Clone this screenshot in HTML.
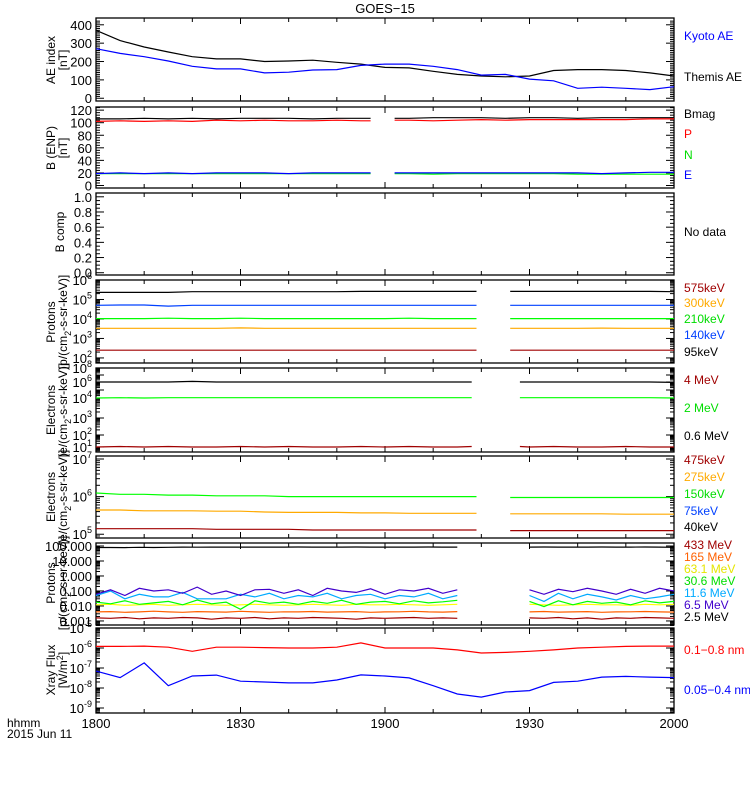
<!DOCTYPE html>
<html><head><meta charset="utf-8"><style>
body{margin:0;background:#fff;}
svg{display:block;font-family:"Liberation Sans",sans-serif;}
</style></head><body>
<svg id="chart" width="750" height="800" xmlns="http://www.w3.org/2000/svg"></svg>
<script>
// ---- data ----
const aeTimes=[0,5,10,15,20,25,30,35,40,45,50,55,60,65,70,75,80,85,90,95,100,105,110,115,120];
const themisAE=[370,314,279,252,226,214,214,200,203,207,196,186,168,165,147,130,121,117,121,151,156,156,151,138,121];
const kyotoAE=[270,244,226,203,174,160,160,138,142,154,156,179,186,186,174,156,126,130,104,95,54,60,54,47,63];
const bTimes=[0,5,10,15,20,25,30,35,40,45,50,55,57,59,62,65,70,75,80,85,90,95,100,105,110,115,120];
const bMag=[106,106,107,106,107,106,107,107,107,106,107,107,107,null,107,107,108,108,108,107,108,108,107,108,108,108,108];
const bP=[102,103,102,103,102,104,103,104,103,103,104,103,103,null,104,104,103,104,105,104,105,105,105,105,105,106,106];
const bN=[19,19,19,19,19,19,19,19,19,19,19,19,19,null,19,19,18,19,19,19,19,19,18,18,18,18,18];
const bE=[19,20,19,20,19,20,20,20,19,20,20,20,20,null,20,20,20,20,20,20,20,20,20,19,20,21,21];
const p4Times=[0,5,10,15,20,25,30,35,40,45,50,55,60,65,70,75,79,82,86,90,95,100,105,110,115,120];
const p95=[2.3e5,2.3e5,2.3e5,2.3e5,2.5e5,2.5e5,2.5e5,2.5e5,2.5e5,2.5e5,2.5e5,2.6e5,2.6e5,2.6e5,2.6e5,2.6e5,2.6e5,null,2.6e5,2.6e5,2.6e5,2.6e5,2.6e5,2.6e5,2.6e5,2.5e5];
const p140=[5e4,5.2e4,5.2e4,4.6e4,5e4,5e4,5e4,5e4,5e4,5e4,5e4,5e4,5e4,5e4,5e4,5e4,5e4,null,5e4,5e4,5e4,5e4,5e4,5e4,5e4,5e4];
const p210=[1.05e4,1.05e4,1.05e4,1.1e4,1.05e4,1.05e4,1.1e4,1.05e4,1.05e4,1.05e4,1.05e4,1.05e4,1.05e4,1.1e4,1.05e4,1.05e4,1.05e4,null,1.05e4,1.05e4,1.05e4,1.05e4,1.05e4,1.05e4,1.05e4,1.05e4];
const p300=[3.3e3,3.3e3,3.3e3,3.3e3,3.3e3,3.3e3,3.5e3,3.3e3,3.3e3,3.3e3,3.3e3,3.3e3,3.3e3,3.3e3,3.3e3,3.3e3,3.3e3,null,3.3e3,3.3e3,3.3e3,3.3e3,3.4e3,3.3e3,3.3e3,3.3e3];
const p575=[250,250,250,250,250,250,250,250,250,250,250,250,250,250,250,250,250,null,250,250,250,250,250,250,250,250];
const e5Times=[0,5,10,15,20,25,30,35,40,45,50,55,60,65,70,75,78,82,88,90,95,100,105,110,115,120];
const e06=[1e6,1e6,1e6,1e6,1.2e6,1e6,1e6,1e6,1e6,1e6,1e6,1e6,1e6,1e6,1e6,1e6,1e6,null,1e6,1e6,1e6,1e6,1e6,1e6,1e6,9e5];
const e2=[1e4,1.1e4,1e4,1.1e4,1.1e4,1.1e4,1.1e4,1.1e4,1.1e4,1.1e4,1.1e4,1.1e4,1.1e4,1.1e4,1.1e4,1.1e4,1.1e4,null,1.1e4,1.1e4,1.1e4,1.1e4,1.1e4,1.1e4,1.1e4,1e4];
const e4=[10,11,10,11,10,10,11,10,11,10,10,11,10,11,10,10,11,null,11,10,11,10,10,11,10,10];
const e6Times=[0,5,10,15,20,25,30,35,40,45,50,55,60,65,70,75,79,82,86,90,95,100,105,110,115,120];
const e150=[1.25e6,1.15e6,1.15e6,1.1e6,1.1e6,1.05e6,1.05e6,1.05e6,1e6,1e6,1e6,1e6,1e6,1e6,1e6,1e6,1e6,null,9.5e5,9.5e5,9.5e5,9.5e5,9.5e5,9.5e5,9.5e5,9.5e5];
const e275=[4.4e5,4.4e5,4.2e5,4.2e5,4.2e5,4.1e5,4.1e5,3.9e5,3.8e5,3.8e5,3.8e5,3.7e5,3.7e5,3.6e5,3.6e5,3.6e5,3.6e5,null,3.5e5,3.5e5,3.5e5,3.5e5,3.5e5,3.4e5,3.4e5,3.4e5];
const e475=[1.4e5,1.4e5,1.4e5,1.4e5,1.4e5,1.35e5,1.35e5,1.35e5,1.35e5,1.3e5,1.3e5,1.3e5,1.3e5,1.3e5,1.3e5,1.3e5,1.3e5,null,1.25e5,1.25e5,1.25e5,1.25e5,1.25e5,1.25e5,1.25e5,1.25e5];
const p7Times=[0,3,6,9,12,15,18,21,24,27,30,33,36,39,42,45,48,51,54,57,60,63,66,69,72,75,78,81,84,87,90,93,96,99,102,105,108,111,114,117,120];
const p2_5=[80,80,78,82,80,82,85,83,85,85,84,85,85,84,86,85,85,84,86,85,85,84,85,86,85,85,null,null,null,null,85,86,85,85,84,86,85,85,86,84,82];
const p6_5=[0.06,0.12,0.05,0.15,0.1,0.12,0.07,0.18,0.06,0.1,0.05,0.12,0.13,0.07,0.12,0.05,0.15,0.1,0.08,0.14,0.06,0.12,0.1,0.15,0.07,0.12,null,null,null,null,0.12,0.06,0.13,0.09,0.15,0.1,0.06,0.13,0.07,0.15,0.1];
const p11_6=[0.05,0.1,0.03,0.06,0.04,0.04,0.08,0.03,0.03,0.03,0.06,0.04,0.07,0.03,0.05,0.04,0.07,0.03,0.05,0.06,0.03,0.05,0.04,0.07,0.03,0.05,null,null,null,null,0.05,0.02,0.07,0.03,0.06,0.04,0.025,0.05,0.03,0.04,0.06];
const p30_6=[0.018,0.014,0.022,0.013,0.016,0.02,0.012,0.025,0.014,0.018,0.006,0.022,0.015,0.018,0.013,0.02,0.015,0.024,0.013,0.018,0.02,0.014,0.022,0.016,0.019,0.024,null,null,null,null,0.02,0.009,0.022,0.012,0.02,0.015,0.018,0.012,0.022,0.016,0.02];
const p63_1=[0.012,0.013,0.011,0.012,0.013,0.011,0.012,0.013,0.012,0.011,0.012,0.013,0.012,0.011,0.012,0.013,0.012,0.011,0.013,0.012,0.012,0.013,0.012,0.011,0.012,0.013,null,null,null,null,0.013,0.012,0.011,0.012,0.013,0.012,0.012,0.011,0.013,0.012,0.013];
const p165=[0.004,0.0042,0.0038,0.004,0.0045,0.004,0.0038,0.0042,0.004,0.0039,0.0044,0.004,0.0038,0.0041,0.004,0.0043,0.0039,0.004,0.0042,0.0038,0.004,0.0041,0.0044,0.004,0.0039,0.0042,null,null,null,null,0.004,0.0043,0.0039,0.004,0.0042,0.0038,0.004,0.0041,0.0043,0.004,0.0039];
const p433=[0.0016,0.0015,0.0017,0.0014,0.0016,0.0015,0.0017,0.0016,0.0013,0.0016,0.0015,0.0017,0.0014,0.0016,0.0015,0.0017,0.0016,0.0015,0.0013,0.0016,0.0015,0.0016,0.0017,0.0015,0.0016,0.0015,null,null,null,null,0.0016,0.0015,0.0017,0.0014,0.0016,0.0013,0.0016,0.0015,0.0017,0.0016,0.0015];
const xTimes=[0,5,10,15,20,25,30,35,40,45,50,55,60,65,70,75,80,85,90,95,100,105,110,115,120];
const xLong=[1.2e-6,1.2e-6,1.25e-6,1.1e-6,6.8e-7,1.1e-6,1.1e-6,1.05e-6,1e-6,1e-6,1.1e-6,1.8e-6,1e-6,1e-6,1e-6,8e-7,5.6e-7,6e-7,6.8e-7,8e-7,1e-6,1.1e-6,1.2e-6,1.25e-6,1.25e-6];
const xShort=[7e-8,3.3e-8,1.8e-7,1.3e-8,4e-8,4.4e-8,2.2e-8,2e-8,1.8e-8,1.8e-8,2.5e-8,4.5e-8,4e-8,3.2e-8,1.3e-8,5e-9,3.5e-9,6.3e-9,7.4e-9,1.9e-8,2.2e-8,3.5e-8,3.8e-8,3.5e-8,3.3e-8];

// ---- layout ----
const NS="http://www.w3.org/2000/svg";
const svg=document.getElementById('chart');
const X0=96,X1=674;
function xs(m){return X0+(X1-X0)*m/120;}
function el(tag,attrs,parent){const e=document.createElementNS(NS,tag);for(const k in attrs)e.setAttribute(k,attrs[k]);(parent||svg).appendChild(e);return e;}
function linY(v0,v1,top,bot){return v=>bot-(v-v0)/(v1-v0)*(bot-top);}
function logY(l0,l1,top,bot){return v=>bot-(Math.log10(v)-l0)/(l1-l0)*(bot-top);}
function pwLogY(ks,ys){return v=>{const l=Math.log10(v);for(let i=0;i<ks.length-1;i++){if(l<=ks[i+1]||i==ks.length-2){return ys[i]+(l-ks[i])/(ks[i+1]-ks[i])*(ys[i+1]-ys[i]);}}};}

function frame(top,bot,name){
  const g=el('g',{});
  
  
  el('rect',{x:X0,y:top,width:X1-X0,height:bot-top,fill:'none',stroke:'#000','stroke-width':1.3},g);
  for(let m=0;m<=120;m+=10){const x=xs(m);const L=(m%30==0)?6:4;
    el('line',{x1:x,x2:x,y1:bot,y2:bot-L,stroke:'#000'},g);
    el('line',{x1:x,x2:x,y1:top,y2:top+L,stroke:'#000'},g);}
  return g;
}
function yTicksLin(ys,v0,v1,major,minor,fmt,name){
  const g=el('g',{});
  
  
  for(let v=v0;v<=v1+1e-9;v+=minor){const y=ys(v);const isM=Math.abs(v/major-Math.round(v/major))<1e-6;const L=isM?8:4;
    el('line',{x1:X0,x2:X0+L,y1:y,y2:y,stroke:'#000'},g);
    el('line',{x1:X1,x2:X1-L,y1:y,y2:y,stroke:'#000'},g);
    if(isM){const t=el('text',{x:92,y:y+5,'text-anchor':'end','font-size':13},g);t.textContent=fmt(v);}}
}
function yTicksLog(ys,d0,d1,labelFn,name,top,bot){
  const g=el('g',{});
  
  
  for(let d=d0;d<=d1;d++){for(let k=1;k<10;k++){const v=k*Math.pow(10,d);const y=ys(v);if(y<top-0.5||y>bot+0.5)continue;const L=k==1?8:4;
    el('line',{x1:X0,x2:X0+L,y1:y,y2:y,stroke:'#000'},g);
    el('line',{x1:X1,x2:X1-L,y1:y,y2:y,stroke:'#000'},g);}
    const y=ys(Math.pow(10,d));if(labelFn&&y>=top-2&&y<=bot+2)labelFn(g,d,y);}
}
function powLabel(g,d,y){const t=el('text',{x:92,y:y+5,'text-anchor':'end','font-size':13},g);
  const a=el('tspan',{},t);a.textContent='10';const b=el('tspan',{dy:-6,'font-size':9},t);b.textContent=String(d);}
function series(times,vals,ys,color,name){
  let d='',pen=false;
  for(let i=0;i<times.length;i++){const v=vals[i];if(v==null){pen=false;continue;}
    d+=(pen?'L':'M')+xs(times[i]).toFixed(1)+','+ys(v).toFixed(1);pen=true;}
  const p=el('path',{d:d,fill:'none',stroke:color,'stroke-width':1.2});
  
  
}
function rlabel(txt,y,color,name){const t=el('text',{x:684,y:y,'font-size':12,fill:color});t.textContent=txt;
  
  }
function ytitle(lines,cy,xs0,name){lines.forEach((ln,i)=>{const x=xs0[i];const t=el('text',{x:x,y:cy,'text-anchor':'middle','font-size':12,transform:'rotate(-90 '+x+' '+cy+')'});t.innerHTML=ln;
  
  });}

// title
const tt=el('text',{x:385,y:13,'text-anchor':'middle','font-size':13});tt.textContent='GOES\u221215';



// Panel 1 AE
{const top=18,bot=101;const ys=linY(-15,437,top,bot);frame(top,bot,'ae');
 yTicksLin(ys,0,420,100,10,v=>String(v),'ae');
 series(aeTimes,themisAE,ys,'#000','themis-ae-line');series(aeTimes,kyotoAE,ys,'#0000ff','kyoto-ae-line');
 rlabel('Kyoto AE',40,'#0000ff','legend-kyoto-ae');rlabel('Themis AE',81,'#000','legend-themis-ae');
 ytitle(['AE index','[nT]'],60,[55,67],'ae-y-title');}
// Panel 2 B
{const top=107,bot=188;const ys=linY(-4,125,top,bot);frame(top,bot,'b-enp');
 yTicksLin(ys,0,124,20,4,v=>String(v),'b-enp');
 series(bTimes,bMag,ys,'#000','bmag-line');series(bTimes,bP,ys,'#ff0000','bp-line');
 series(bTimes,bN,ys,'#00ff00','bn-line');series(bTimes,bE,ys,'#0000ff','be-line');
 rlabel('Bmag',118,'#000','legend-bmag');rlabel('P',138,'#ff0000','legend-p');rlabel('N',159,'#00dd00','legend-n');rlabel('E',179,'#0000ff','legend-e');
 ytitle(['B (ENP)','[nT]'],148,[55,67],'b-y-title');}
// Panel 3 B comp
{const top=193,bot=275;const ys=linY(-0.03,1.05,top,bot);frame(top,bot,'b-comp');
 yTicksLin(ys,0,1.0,0.2,0.05,v=>v.toFixed(1),'b-comp');
 rlabel('No data',236,'#000','no-data-label');
 ytitle(['B comp'],232,[64],'bcomp-y-title');}
// Panel 4 Protons
{const top=280,bot=363;const ys=logY(1.74,6,top,bot);frame(top,bot,'protons-1');
 yTicksLog(ys,1,6,powLabel,'protons-1',top,bot);
 series(p4Times,p95,ys,'#000','p95kev-line');series(p4Times,p140,ys,'#0040ff','p140kev-line');
 series(p4Times,p210,ys,'#00ff00','p210kev-line');series(p4Times,p300,ys,'#ffaa00','p300kev-line');
 series(p4Times,p575,ys,'#a00000','p575kev-line');
 rlabel('575keV',292,'#a00000','legend-575kev');rlabel('300keV',307,'#ffaa00','legend-300kev');rlabel('210keV',323,'#00dd00','legend-210kev');rlabel('140keV',339,'#0040ff','legend-140kev');rlabel('95keV',356,'#000','legend-95kev');
 ytitle(['Protons','[p/(cm<tspan dy="4" font-size="9">2</tspan><tspan dy="-4">-s-sr-keV)]</tspan>'],322,[55,67],'protons-1-y-title');}
// Panel 5 Electrons
{const top=368,bot=452;const ys=pwLogY([0.6,1,2,3,4,6,8],[452,447,435,418,398,382,368]);frame(top,bot,'electrons-1');
 yTicksLog(ys,0,8,(g,d,y)=>{if(d===0||d===5||d===7)return;powLabel(g,d,y);},'electrons-1',top,bot);
 series(e5Times,e06,ys,'#000','e06mev-line');series(e5Times,e2,ys,'#00ff00','e2mev-line');series(e5Times,e4,ys,'#a00000','e4mev-line');
 rlabel('4 MeV',384,'#a00000','legend-4mev');rlabel('2 MeV',412,'#00dd00','legend-2mev');rlabel('0.6 MeV',440,'#000','legend-06mev');
 ytitle(['Electrons','[e/(cm<tspan dy="4" font-size="9">2</tspan><tspan dy="-4">-s-sr-keV)]</tspan>'],410,[55,67],'electrons-1-y-title');}
// Panel 6 Electrons
{const top=456,bot=538;const ys=logY(4.9,7.08,top,bot);frame(top,bot,'electrons-2');
 yTicksLog(ys,4,7,powLabel,'electrons-2',top,bot);
 series(e6Times,e150,ys,'#00ff00','e150kev-line');series(e6Times,e275,ys,'#ffaa00','e275kev-line');series(e6Times,e475,ys,'#a00000','e475kev-line');
 rlabel('475keV',464,'#a00000','legend-475kev');rlabel('275keV',481,'#ffaa00','legend-275kev');rlabel('150keV',498,'#00dd00','legend-150kev');rlabel('75keV',515,'#0040ff','legend-75kev');rlabel('40keV',531,'#000','legend-40kev');
 ytitle(['Electrons','[e/(cm<tspan dy="4" font-size="9">2</tspan><tspan dy="-4">-s-sr-keV)]</tspan>'],497,[55,67],'electrons-2-y-title');}
// Panel 7 Protons high
{const top=543,bot=625;const ys=logY(-3.27,2.2,top,bot);frame(top,bot,'protons-2');
 const fm={'-3':'0.001','-2':'0.010','-1':'0.100','0':'1.000','1':'10.000','2':'100.000'};
 yTicksLog(ys,-4,2,(g,d,y)=>{const t=el('text',{x:92,y:y+5,'text-anchor':'end','font-size':13},g);t.textContent=fm[String(d)];},'protons-2',top,bot);
 series(p7Times,p2_5,ys,'#000','p2-5mev-line');series(p7Times,p433,ys,'#a00000','p433mev-line');series(p7Times,p165,ys,'#ff6000','p165mev-line');
 series(p7Times,p63_1,ys,'#ffff00','p63-1mev-line');series(p7Times,p30_6,ys,'#00ff00','p30-6mev-line');series(p7Times,p11_6,ys,'#00aaff','p11-6mev-line');series(p7Times,p6_5,ys,'#4000cc','p6-5mev-line');
 rlabel('433 MeV',549,'#a00000','legend-433mev');rlabel('165 MeV',561,'#ff6000','legend-165mev');rlabel('63.1 MeV',573,'#e6e600','legend-63mev');rlabel('30.6 MeV',585,'#00dd00','legend-30mev');rlabel('11.6 MeV',597,'#00aaff','legend-11mev');rlabel('6.5 MeV',609,'#4000cc','legend-6-5mev');rlabel('2.5 MeV',621,'#000','legend-2-5mev');
 ytitle(['Protons','[p/(cm<tspan dy="4" font-size="9">2</tspan><tspan dy="-4">-s-sr-keV)]</tspan>'],583,[55,67],'protons-2-y-title');}
// Panel 8 Xray
{const top=628,bot=713;const ys=logY(-9.25,-5,top,bot);frame(top,bot,'xray');
 yTicksLog(ys,-10,-5,powLabel,'xray',top,bot);
 series(xTimes,xLong,ys,'#ff0000','xray-long-line');series(xTimes,xShort,ys,'#0000ff','xray-short-line');
 rlabel('0.1\u22120.8 nm',654,'#ff0000','legend-xray-long');rlabel('0.05\u22120.4 nm',694,'#0000ff','legend-xray-short');
 ytitle(['Xray Flux','[W/m<tspan dy="-4" font-size="9">2</tspan><tspan dy="4">]</tspan>'],670,[55,67],'xray-y-title');}
// x labels
{const labs=['1800','1830','1900','1930','2000'];labs.forEach((s,i)=>{const t=el('text',{x:xs(i*30),y:728,'text-anchor':'middle','font-size':13});t.textContent=s;
 
 });
 const h=el('text',{x:7,y:727,'font-size':12});h.textContent='hhmm';
 
 
 const d=el('text',{x:7,y:738,'font-size':12});d.textContent='2015 Jun 11';
 
 }
</script>
</body></html>
